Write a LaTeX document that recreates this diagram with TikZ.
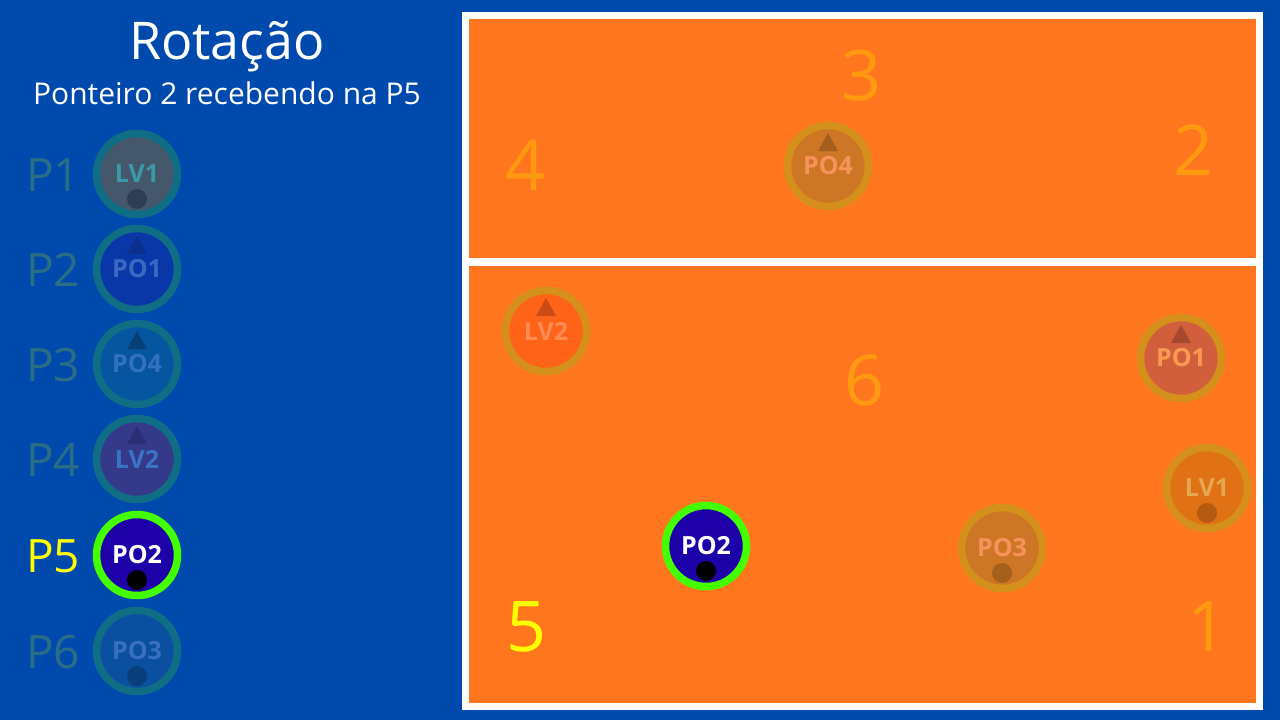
\documentclass[tikz,border=0pt]{standalone}
\usepackage{fontspec}
\setmainfont{Open Sans}
\usetikzlibrary{calc}
\definecolor{bgblue}{HTML}{004AAD}
\definecolor{court}{HTML}{FF761F}
\definecolor{fadering}{HTML}{0F6E86}
\definecolor{fadetext}{HTML}{2A6E86}
\definecolor{courtring}{HTML}{D4901A}
\definecolor{courtnum}{HTML}{FF9A10}
\definecolor{greenring}{HTML}{44FF00}
\definecolor{po2fill}{HTML}{1E00A8}
\definecolor{pyellow}{HTML}{FFFF00}
% left column colours
\definecolor{sLVafill}{HTML}{45576A}
\definecolor{sLVatext}{HTML}{3A9AAA}
\definecolor{sLVadot}{HTML}{2E3F55}
\definecolor{sPOafill}{HTML}{0A37A8}
\definecolor{sPOatext}{HTML}{3B68C0}
\definecolor{sPOatri}{HTML}{0A2F8F}
\definecolor{sPOdfill}{HTML}{0555A0}
\definecolor{sPOdtext}{HTML}{3370C0}
\definecolor{sPOdtri}{HTML}{083F78}
\definecolor{sLVbfill}{HTML}{35398A}
\definecolor{sLVbtext}{HTML}{3A73C5}
\definecolor{sLVbtri}{HTML}{2A2E75}
\definecolor{sPOcfill}{HTML}{0A4FA0}
\definecolor{sPOctext}{HTML}{3A6FC0}
\definecolor{sPOcdot}{HTML}{083F7A}
% court colours
\definecolor{cPOdfill}{HTML}{CD7726}
\definecolor{cPOdtext}{HTML}{F7935A}
\definecolor{cPOdtri}{HTML}{A45E1E}
\definecolor{cLVbfill}{HTML}{FF6318}
\definecolor{cLVbtext}{HTML}{FF8C55}
\definecolor{cLVbtri}{HTML}{CB4B14}
\definecolor{cPOafill}{HTML}{D25F3C}
\definecolor{cPOatext}{HTML}{F99A52}
\definecolor{cPOatri}{HTML}{A64830}
\definecolor{cLVafill}{HTML}{E07115}
\definecolor{cLVatext}{HTML}{E5A850}
\definecolor{cLVadot}{HTML}{B55A10}
\definecolor{cPOcdot}{HTML}{A5601C}
\tikzset{
  disc/.style={circle, inner sep=0pt, outer sep=0pt, minimum size=81, line width=7.5},
  plabel/.style={font=\fontsize{25}{25}\selectfont\bfseries},
  poslabel/.style={font=\fontsize{46}{46}\selectfont, text=fadetext},
  courtnumber/.style={font=\fontsize{70}{70}\selectfont, text=courtnum},
}
\newcommand\plrtri[7]{% name, pos, fill, ring, textcol, label, markcol
  \node[disc, fill=#3, draw=#4] (#1) at (#2) {};
  \fill[#7] ($(#1)+(-10,-15)$) -- ($(#1)+(10,-15)$) -- ($(#1)+(0,-33)$) -- cycle;
  \node[plabel, text=#5] (#1-t) at (#1) {#6};
}
\newcommand\plrdot[7]{% name, pos, fill, ring, textcol, label, markcol
  \node[disc, fill=#3, draw=#4] (#1) at (#2) {};
  \fill[#7] ($(#1)+(0,25)$) circle[radius=10];
  \node[plabel, text=#5] (#1-t) at (#1) {#6};
}
\begin{document}
\begin{tikzpicture}[x=1pt,y=-1pt]
\useasboundingbox (0,0) rectangle (1280,720);
\fill[bgblue] (0,0) rectangle (1280,720);
% court
\node[draw=white, line width=7, fill=court, minimum width=794, minimum height=691, inner sep=0, outer sep=0] (court) at (862,360.5) {};
\coordinate (netL) at (465,262);
\coordinate (netR) at (1259,262);
\draw[white, line width=8] (netL) -- (netR);
% court numbers
\node[courtnumber] (n3) at (862,75) {3};
\node[courtnumber] (n2) at (1193,150) {2};
\node[courtnumber] (n4) at (526,165) {4};
\node[courtnumber] (n6) at (865,380) {6};
\node[courtnumber, text=pyellow] (n5) at (527,627) {5};
\node[courtnumber] (n1) at (1207,627) {1};
% title
\node[text=white, font=\fontsize{52}{52}\selectfont] (title) at (227,47) {Rotação};
\node[text=white, font=\fontsize{30}{30}\selectfont] (subtitle) at (227,93) {Ponteiro 2 recebendo na P5};
% position labels
\node[poslabel] (p1) at (53,175) {P1};
\node[poslabel] (p2) at (53,270) {P2};
\node[poslabel] (p3) at (53,365) {P3};
\node[poslabel] (p4) at (53,460) {P4};
\node[poslabel, text=pyellow] (p5) at (53,556) {P5};
\node[poslabel] (p6) at (53,652) {P6};
% left column players
\plrdot{sLV1}{137,174}{sLVafill}{fadering}{sLVatext}{LV1}{sLVadot}
\plrtri{sPO1}{137,269}{sPOafill}{fadering}{sPOatext}{PO1}{sPOatri}
\plrtri{sPO4}{137,364}{sPOdfill}{fadering}{sPOdtext}{PO4}{sPOdtri}
\plrtri{sLV2}{137,459}{sLVbfill}{fadering}{sLVbtext}{LV2}{sLVbtri}
\plrdot{sPO2}{137,555}{po2fill}{greenring}{white}{PO2}{black}
\plrdot{sPO3}{137,651}{sPOcfill}{fadering}{sPOctext}{PO3}{sPOcdot}
% court players
\plrtri{cPO4}{828,166}{cPOdfill}{courtring}{cPOdtext}{PO4}{cPOdtri}
\plrtri{cLV2}{546,331}{cLVbfill}{courtring}{cLVbtext}{LV2}{cLVbtri}
\plrtri{cPO1}{1181,358}{cPOafill}{courtring}{cPOatext}{PO1}{cPOatri}
\plrdot{cLV1}{1207,488}{cLVafill}{courtring}{cLVatext}{LV1}{cLVadot}
\plrdot{cPO2}{706,546}{po2fill}{greenring}{white}{PO2}{black}
\plrdot{cPO3}{1002,548}{cPOdfill}{courtring}{cPOdtext}{PO3}{cPOcdot}
\end{tikzpicture}
\end{document}
